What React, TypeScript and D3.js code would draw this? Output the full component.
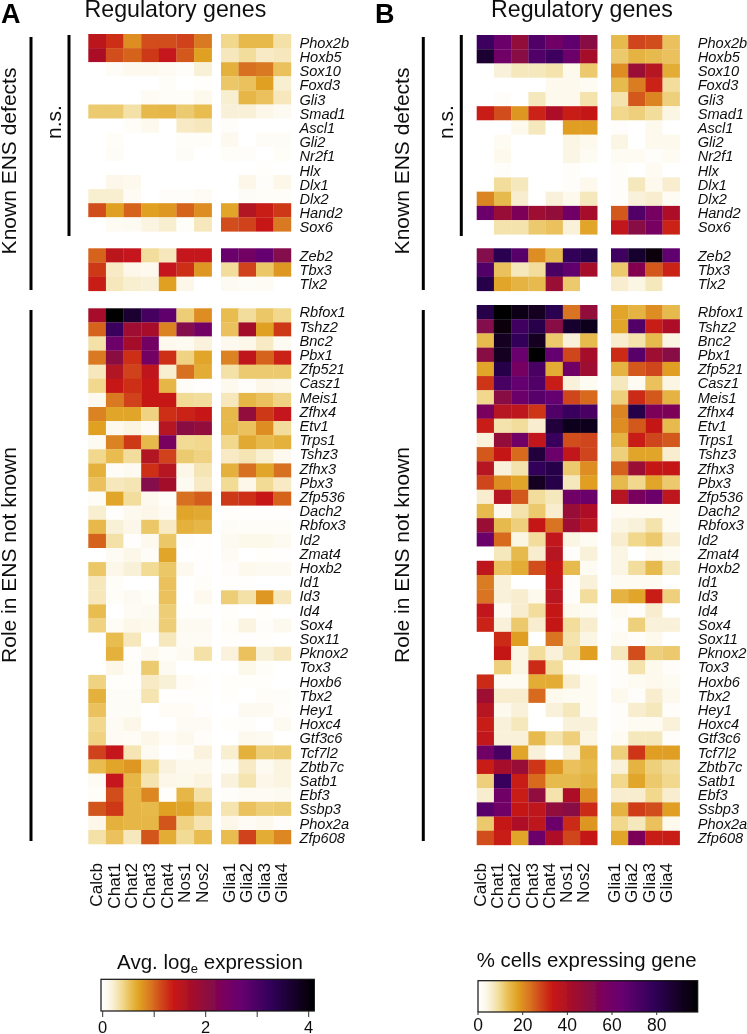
import React from "react";
import * as d3 from "d3";

const neurons = ["Calcb", "Chat1", "Chat2", "Chat3", "Chat4", "Nos1", "Nos2"];
const glia = ["Glia1", "Glia2", "Glia3", "Glia4"];

const knownNs = ["Phox2b", "Hoxb5", "Sox10", "Foxd3", "Gli3", "Smad1", "Ascl1", "Gli2", "Nr2f1", "Hlx", "Dlx1", "Dlx2", "Hand2", "Sox6"];
const knownSig = ["Zeb2", "Tbx3", "Tlx2"];
const unknown = ["Rbfox1", "Tshz2", "Bnc2", "Pbx1", "Zfp521", "Casz1", "Meis1", "Zfhx4", "Etv1", "Trps1", "Tshz3", "Zfhx3", "Pbx3", "Zfp536", "Dach2", "Rbfox3", "Id2", "Zmat4", "Hoxb2", "Id1", "Id3", "Id4", "Sox4", "Sox11", "Pknox2", "Tox3", "Hoxb6", "Tbx2", "Hey1", "Hoxc4", "Gtf3c6", "Tcf7l2", "Zbtb7c", "Satb1", "Ebf3", "Ssbp3", "Phox2a", "Zfp608"];

// Avg. log_e expression: one row per gene, 7 neuron classes then 4 glia classes
const exprKnownNs = [
  [1.55,1.3,.85,1.15,1.15,1.2,.95,.42,.6,.6,.35],
  [1.7,1.15,1.05,1.25,1.45,1.1,.75,.3,.38,.28,.3],
  [0,.06,.12,.12,.08,.04,.22,.65,1.0,.95,.55],
  [0,0,0,0,.05,0,.03,.52,.55,.75,.25],
  [0,0,0,.08,.05,.05,.13,.25,.62,.55,.3],
  [.5,.5,.35,.6,.62,.5,.58,.22,.22,.15,.1],
  [0,0,.05,.12,0,.28,.3,.04,0,0,0],
  [0,.05,0,0,0,.05,.05,.12,0,.06,.06],
  [0,.06,0,0,0,.06,0,.05,.04,0,.05],
  [0,0,0,0,0,0,0,0,0,.03,0],
  [0,.15,.13,0,0,0,0,0,.15,.04,.15],
  [.25,.25,.08,0,.04,.04,.08,0,.06,.05,.05],
  [1.15,.75,1.05,.75,.8,1.05,.85,.72,1.65,1.4,1.25],
  [0,.09,.1,.18,.25,.05,.3,1.15,1.2,1.42,.95],
];
const exprKnownSig = [
  [1.05,1.55,1.45,.38,.3,1.45,1.45,2.65,2.5,2.75,2.2],
  [1.25,.28,.15,.12,1.45,1.3,.8,.38,1.2,.52,.8],
  [1.4,.3,.25,.22,.75,.15,0,.1,.06,.08,0],
];
const exprUnknown = [
  [1.75,4.15,3.7,3.1,2.8,.48,.85,.58,.38,.52,.42],
  [1.05,3.2,1.85,1.75,.9,2.2,2.5,.55,1.8,.75,1.25],
  [.35,2.6,1.8,2.5,.12,.1,.2,.12,.15,.28,.1],
  [.95,2.1,1.3,2.5,1.3,.45,.72,.9,1.5,1.05,1.35],
  [.3,1.65,1.2,1.5,.25,1.0,.68,.35,.5,.5,.5],
  [.42,1.42,1.3,1.42,.62,.06,.02,.12,.04,.15,.12],
  [.12,.95,1.2,1.42,1.42,.4,.38,.3,.62,.55,.45],
  [.9,.72,.72,.45,1.3,1.35,1.42,.6,2.0,1.25,1.45],
  [.75,.12,.18,.08,1.6,2.1,2.0,.6,.55,.85,.38],
  [.1,.9,1.25,.6,2.4,.4,.42,.42,.7,.6,.65],
  [.42,.58,.38,1.65,1.2,.5,.45,.28,.32,.25,.12],
  [.65,.06,.1,1.3,1.6,.15,.32,.65,1.0,.72,1.0],
  [.55,.3,.32,2.2,1.8,.1,.28,.4,.15,.4,.28],
  [.06,.72,.38,.12,.05,1.0,1.08,1.25,1.3,1.42,1.05],
  [.25,.03,.12,.15,.08,.72,.7,.03,.02,.02,.02],
  [.6,.22,.15,.52,.28,.65,.62,.06,.05,.05,.05],
  [1.05,.35,.02,.12,.52,.04,.02,.1,.14,.14,.1],
  [0,.08,.15,.06,.72,0,.03,.08,0,.03,.02],
  [.52,.15,.22,.4,.52,.12,.02,.04,.13,.1,.1],
  [.3,.05,0,0,.55,0,.05,.02,.02,0,0],
  [.3,.05,.1,.05,.55,0,.12,.48,.35,.8,.3],
  [.58,0,.08,.1,.48,.03,.03,.03,0,.03,0],
  [.45,.07,.15,.13,.48,.1,.1,.05,.18,.04,.12],
  [0,.58,.3,0,.3,.08,.08,.03,.02,.03,0],
  [0,.65,.03,.12,.05,.1,.35,.2,.55,.22,.3],
  [0,.15,.05,.5,.1,0,0,0,.14,.05,0],
  [.45,.03,.03,.28,.22,.07,.03,.03,.03,.03,0],
  [.65,.06,.06,.33,.02,.02,.03,.03,0,.05,.04],
  [.55,.06,.06,0,.07,.07,.02,0,.1,.1,.03],
  [.42,.08,.15,0,0,.08,.08,.03,.04,0,.1],
  [.45,.08,.07,.15,.07,.13,.04,0,.12,.1,0],
  [1.2,1.45,.32,.1,0,.05,.2,.25,.65,.48,.5],
  [.58,.72,.8,.42,.2,.13,.13,.06,.28,.1,.18],
  [.08,1.45,.62,.33,.15,.14,.18,.2,.33,.15,.18],
  [.05,1.15,.62,.88,.03,.62,.35,.04,.08,.08,.1],
  [1.12,1.25,.62,.6,.75,.72,.55,.33,.55,.48,.5],
  [.15,.65,.62,.62,1.12,.45,.33,.15,.08,.12,.04],
  [.35,.55,.3,1.12,.68,.4,.58,.58,1.2,.68,.88],
];

// % cells expressing gene: same row and column order
const pctKnownNs = [
  [75,62,47,70,60,66,50,14,28,27,13],
  [87,60,50,70,75,62,42,12,15,14,13],
  [0,5,7,7,8,3,12,20,45,38,16],
  [0,0,0,0,3,3,2,14,22,32,9],
  [0,1,0,7,3,3,8,8,26,21,11],
  [33,27,19,32,40,33,34,10,11,9,4],
  [0,0,3,7,0,18,18,1,0,3,0],
  [0,2,0,0,0,4,3,4,0,3,3],
  [0,3,0,0,0,4,2,2,2,1,2],
  [0,1,0,0,0,1,0,1,0,2,0],
  [0,9,7,0,0,1,3,1,7,3,6],
  [21,14,6,0,5,3,7,1,5,6,2],
  [62,46,55,44,47,60,42,26,70,58,40],
  [0,8,8,12,13,5,17,35,50,57,32],
];
const pctKnownSig = [
  [52,80,68,20,14,78,82,74,88,95,66],
  [70,13,7,9,72,66,42,12,53,26,32],
  [82,17,15,14,45,12,0,6,4,7,0],
];
const pctUnknown = [
  [82,97,93,90,80,23,47,17,15,20,14],
  [52,95,74,82,50,88,91,17,70,33,40],
  [14,90,78,90,12,5,14,6,8,14,4],
  [50,90,63,97,65,28,42,31,68,44,50],
  [17,82,58,72,16,60,44,15,26,28,18],
  [30,72,65,70,33,5,2,7,2,13,4],
  [10,50,62,68,65,28,24,11,31,26,15],
  [56,38,36,30,70,76,72,21,82,55,55],
  [33,8,9,6,85,92,91,20,26,34,14],
  [5,47,60,35,76,27,28,15,33,28,26],
  [26,34,24,85,62,35,28,11,17,17,6],
  [38,5,8,78,82,12,20,25,45,34,34],
  [28,20,17,90,82,7,18,14,10,17,12],
  [6,38,26,9,7,60,62,38,56,62,36],
  [14,3,8,12,6,46,40,2,2,2,2],
  [45,14,11,34,23,44,37,4,5,8,2],
  [62,24,4,9,35,4,2,6,10,12,6],
  [0,7,14,6,38,1,5,4,0,3,2],
  [36,13,16,27,34,14,2,4,9,14,7],
  [22,5,0,0,35,1,5,2,2,2,0],
  [23,5,6,3,37,1,9,15,17,33,11],
  [35,2,6,9,34,3,2,2,1,6,0],
  [32,5,12,6,34,9,6,1,11,5,5],
  [0,31,18,0,23,8,4,2,1,3,0],
  [0,34,4,9,5,9,18,7,27,11,12],
  [0,11,4,31,9,1,0,1,8,3,1],
  [31,2,2,16,16,6,2,1,2,3,2],
  [44,6,6,24,3,2,2,3,1,6,3],
  [38,3,5,0,5,7,2,1,6,7,1],
  [33,5,7,0,0,5,5,1,2,2,5],
  [35,5,5,14,8,11,4,2,7,7,1],
  [60,72,17,5,0,5,15,11,30,18,18],
  [33,42,46,30,19,13,14,5,15,11,9],
  [11,76,33,24,14,14,15,10,17,12,10],
  [6,60,33,48,8,40,20,6,6,10,6],
  [68,60,34,36,48,50,31,15,29,27,18],
  [12,34,40,36,62,31,19,10,7,13,3],
  [27,33,17,62,40,28,34,17,55,33,33],
];

const rampStops = [0, .03, .06, .10, .14, .18, .24, .28, .34, .42, .5, .58, .66, .8, 1];
const rampColors = ["#ffffff", "#fdf9ee", "#f8eed0", "#f1d98f", "#e8bc50", "#e0a124", "#d87020", "#d04a1a", "#c81818", "#a81028", "#8c0c40", "#780060", "#660070", "#300058", "#000000"];

const ramp = d3.scaleLinear<string>().domain(rampStops).range(rampColors).clamp(true);
const sans = "'Liberation Sans', Arial, sans-serif";

const rowGenes = [knownNs, knownSig, unknown];
// gene labels sit on their own grid, shared by both panels
const labelLayout = [
  { y0: 47.7, step: 14.2 },
  { y0: 261, step: 14 },
  { y0: 317.3, step: 14.2 },
];

type PanelProps = {
  letter: string; letterX: number; titleX: number;
  nx: [number, number]; gx: [number, number];
  rows: { top: number; h: number }[];
  labelX: number; lineX: number; nsX: number; textX: number;
  colShift: number; maxV: number;
  data: number[][][];
};

function Panel(p: PanelProps) {
  const xN = d3.scaleBand().domain(neurons).range(p.nx);
  const xG = d3.scaleBand().domain(glia).range(p.gx);
  const color = (v: number) => ramp(v / p.maxV);
  const cols = [
    ...neurons.map((c) => ({ c, x: xN(c)!, w: xN.bandwidth() })),
    ...glia.map((c) => ({ c, x: xG(c)!, w: xG.bandwidth() })),
  ];
  const vtext = (x: number, y: number, t: string, size: number, anchor = "middle", key?: string) => (
    <text key={key} transform={`translate(${x},${y}) rotate(-90)`} textAnchor={anchor} fontSize={size} fill="#111">{t}</text>
  );
  return (
    <g fontFamily={sans}>
      <text x={p.letterX} y={23} fontSize={27} fontWeight="bold" fill="#000">{p.letter}</text>
      <text x={p.titleX} y={17} fontSize={23.2} fill="#111">Regulatory genes</text>
      {rowGenes.map((genes, gi) => {
        const { top, h } = p.rows[gi];
        const y = d3.scaleBand().domain(genes).range([top, top + h * genes.length]);
        const lab = labelLayout[gi];
        return (
          <g key={gi}>
            {genes.map((gene, r) => (
              <g key={gene}>
                {cols.map((col, ci) => (
                  <rect key={col.c} x={col.x} y={y(gene)} width={col.w + 0.2} height={y.bandwidth() + 0.2} fill={color(p.data[gi][r][ci])} />
                ))}
                <text x={p.labelX} y={lab.y0 + lab.step * r} fontSize={14.6} fontStyle="italic" fill="#111">{gene}</text>
              </g>
            ))}
          </g>
        );
      })}
      <line x1={p.lineX} x2={p.lineX} y1={37} y2={290} stroke="#000" strokeWidth={3} />
      <line x1={p.lineX + 38} x2={p.lineX + 38} y1={35} y2={236} stroke="#000" strokeWidth={3} />
      <line x1={p.lineX} x2={p.lineX} y1={310} y2={841} stroke="#000" strokeWidth={3} />
      {vtext(p.textX, 161, "Known ENS defects", 21)}
      {vtext(p.textX, 555, "Role in ENS not known", 21)}
      {vtext(p.nsX, 122, "n.s.", 21)}
      {cols.map((col) => vtext(col.x + col.w / 2 + p.colShift, 863, col.c, 17.1, "end", col.c))}
    </g>
  );
}

function Legend(props: { id: string; x0: number; x1: number; y0: number; y1: number; zero: number; unit: number; ticks: number[]; labels: number[]; tickLen: number; labelY: number; labelSize: number }) {
  const { id, x0, x1, y0, y1, zero, unit, ticks, labels, tickLen, labelY, labelSize } = props;
  const x = d3.scaleLinear().domain([0, 1]).range([zero, zero + unit]);
  return (
    <g fontFamily={sans}>
      <defs>
        <linearGradient id={id}>
          {rampStops.map((s, i) => <stop key={s} offset={s} stopColor={rampColors[i]} />)}
        </linearGradient>
      </defs>
      <rect x={x0} y={y0} width={x1 - x0} height={y1 - y0} fill={`url(#${id})`} stroke="#111" strokeWidth={1.2} />
      {ticks.map((t) => <line key={t} x1={x(t)} x2={x(t)} y1={y1} y2={y1 + tickLen} stroke="#333" strokeWidth={1} />)}
      {labels.map((t) => <text key={t} x={x(t)} y={labelY} textAnchor="middle" fontSize={labelSize} fill="#111">{t}</text>)}
    </g>
  );
}

export default function App() {
  return (
    <svg width={747} height={1034} style={{ position: "absolute", left: 0, top: 0, background: "#fff" }}>
      <defs>
        <filter id="soft" x="0" y="0" width="100%" height="100%" filterUnits="userSpaceOnUse">
          <feGaussianBlur stdDeviation="0.35" />
        </filter>
      </defs>
      <g filter="url(#soft)">
        <rect x={0} y={0} width={747} height={1034} fill="#fff" />
        <Panel letter="A" letterX={1} titleX={84.5} nx={[88.3, 211.7]} gx={[221, 291]} rows={[{ top: 34, h: 14.1 }, { top: 248.3, h: 14.2 }, { top: 308.3, h: 14.1 }]} labelX={299.5} lineX={31} nsX={61} textX={16} colShift={5} maxV={4.15}
          data={[exprKnownNs, exprKnownSig, exprUnknown]} />
        <Panel letter="B" letterX={375} titleX={491} nx={[476.7, 597.3]} gx={[611, 679.7]} rows={[{ top: 35, h: 14.24 }, { top: 248.3, h: 14.2 }, { top: 305, h: 14.21 }]} labelX={697.7} lineX={423.3} nsX={452.7} textX={409} colShift={0.7} maxV={98}
          data={[pctKnownNs, pctKnownSig, pctUnknown]} />
        <text x={210} y={969} textAnchor="middle" fontSize={20.5} fontFamily={sans} fill="#111">
          Avg. log<tspan fontSize={13} dy={4}>e</tspan><tspan dy={-4}> expression</tspan>
        </text>
        <Legend id="gA" x0={101} x1={314.3} y0={979.3} y1={1011} zero={102.7} unit={51.5} ticks={[0, 1, 2, 3, 4]} labels={[0, 2, 4]} tickLen={6} labelY={1033} labelSize={16.5} />
        <text x={586.7} y={966.7} textAnchor="middle" fontSize={20.4} fontFamily={sans} fill="#111">% cells expressing gene</text>
        <Legend id="gB" x0={478} x1={697.7} y0={980.7} y1={1012} zero={478} unit={2.2338} ticks={[0, 20, 40, 60, 80]} labels={[0, 20, 40, 60, 80]} tickLen={3} labelY={1031} labelSize={17.5} />
      </g>
    </svg>
  );
}
